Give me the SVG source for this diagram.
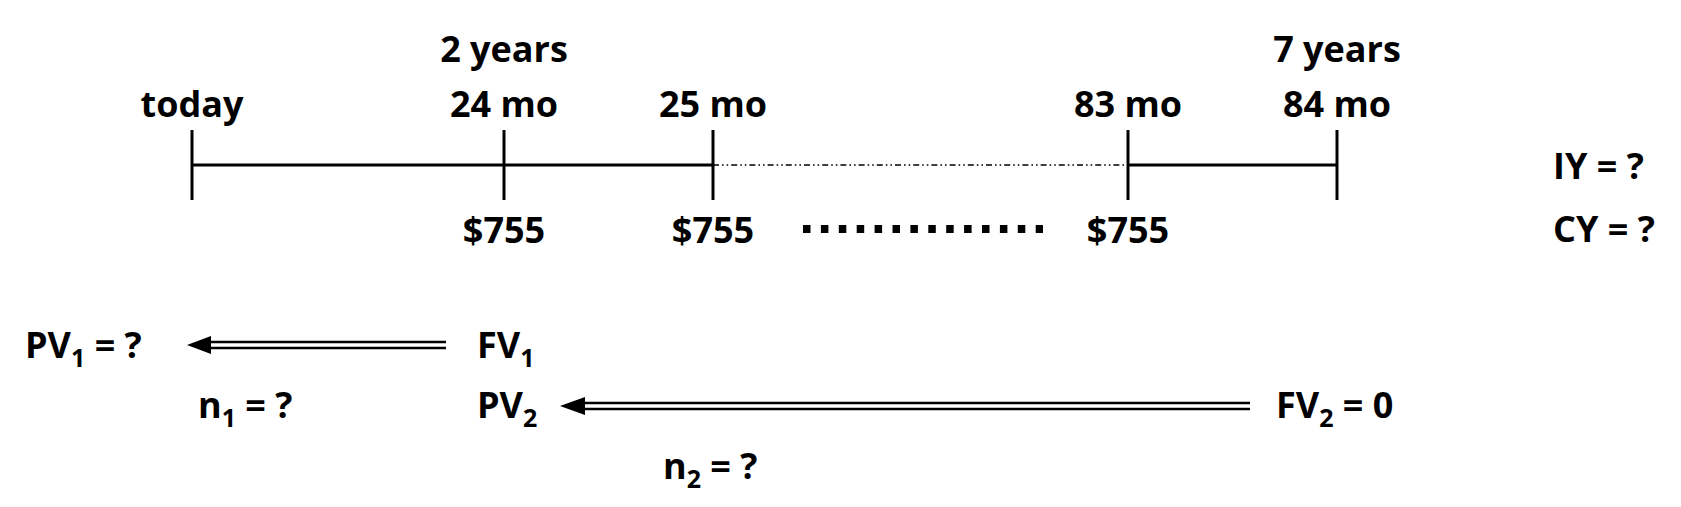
<svg xmlns="http://www.w3.org/2000/svg" width="1681" height="507" viewBox="0 0 1681 507">
<style>
text{font-family:"Open Sans","DejaVu Sans",sans-serif;font-weight:700;font-size:36px;fill:#000}
.c{text-anchor:middle}
.sub{font-size:25px}
.tl{stroke:#000;stroke-width:3;fill:none}
.tick{stroke:#000;stroke-width:3}
.dl{stroke:#000;stroke-width:2.5;fill:none}
</style>
<rect width="1681" height="507" fill="#fff"/>
<g id="connectors">
<line class="tl" x1="192" y1="165" x2="713" y2="165"/>
<line x1="713" y1="165" x2="1128" y2="165" stroke="#000" stroke-width="1.6" stroke-dasharray="6 3 1.6 3 1.6 3"/>
<line class="tl" x1="1128" y1="165" x2="1337" y2="165"/>
<line class="tick" x1="192" y1="130" x2="192" y2="200"/>
<line class="tick" x1="504" y1="130" x2="504" y2="200"/>
<line class="tick" x1="713" y1="130" x2="713" y2="200"/>
<line class="tick" x1="1128" y1="130" x2="1128" y2="200"/>
<line class="tick" x1="1337" y1="130" x2="1337" y2="200"/>
<line x1="803" y1="229" x2="1043" y2="229" stroke="#000" stroke-width="8" stroke-dasharray="7.5 10.4"/>
<g id="arrow1">
<line class="dl" x1="205" y1="342" x2="446" y2="342"/>
<line class="dl" x1="205" y1="348" x2="446" y2="348"/>
<polygon points="187,345 211,336 211,354" fill="#000"/>
</g>
<g id="arrow2">
<line class="dl" x1="578" y1="403" x2="1250" y2="403"/>
<line class="dl" x1="578" y1="409" x2="1250" y2="409"/>
<polygon points="560,406 585,397 585,415" fill="#000"/>
</g>
</g>
<g id="today"><text class="c" x="192" y="117">today</text></g>
<g id="m24"><text class="c" x="504" y="62">2 years</text><text class="c" x="504" y="117">24 mo</text><text class="c" x="504" y="243">$755</text></g>
<g id="m25"><text class="c" x="713" y="117">25 mo</text><text class="c" x="713" y="243">$755</text></g>
<g id="m83"><text class="c" x="1128" y="117">83 mo</text><text class="c" x="1128" y="243">$755</text></g>
<g id="m84"><text class="c" x="1337" y="62">7 years</text><text class="c" x="1337" y="117">84 mo</text></g>
<g id="rates"><text x="1553" y="179">IY = ?</text><text x="1553" y="242">CY = ?</text></g>
<g id="pv1"><text x="25" y="358">PV<tspan class="sub" dy="9">1</tspan><tspan dy="-9"> = ?</tspan></text></g>
<g id="fv1"><text x="477" y="358">FV<tspan class="sub" dy="9">1</tspan></text></g>
<g id="n1"><text x="198" y="418">n<tspan class="sub" dy="9">1</tspan><tspan dy="-9"> = ?</tspan></text></g>
<g id="pv2"><text x="477" y="418">PV<tspan class="sub" dy="9">2</tspan></text></g>
<g id="fv2"><text x="1276" y="418">FV<tspan class="sub" dy="9">2</tspan><tspan dy="-9"> = 0</tspan></text></g>
<g id="n2"><text x="663" y="479">n<tspan class="sub" dy="9">2</tspan><tspan dy="-9"> = ?</tspan></text></g>
</svg>
